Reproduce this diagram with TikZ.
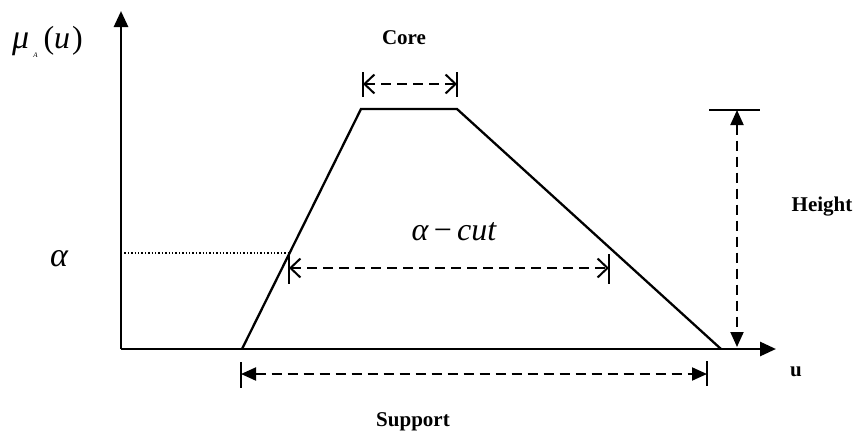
\documentclass[tikz,border=0pt]{standalone}
\usepackage{fontspec}
\setmainfont{Liberation Serif}
\usetikzlibrary{arrows.meta}
\tikzset{
  axisline/.style={line width=2.8pt,-{Triangle[length=16pt,width=14pt]}},
  shape line/.style={line width=2.3pt},
  dimline/.style={line width=2pt,dash pattern=on 10pt off 6pt},
  openarrows/.style={dimline,{Straight Barb[length=10pt,width=19pt,line width=2pt]}-{Straight Barb[length=10pt,width=19pt,line width=2pt]}},
  fillarrows/.style={dimline,{Triangle[length=15pt,width=13pt]}-{Triangle[length=15pt,width=13pt]}},
  barline/.style={line width=2pt},
  boldlabel/.style={font=\fontsize{21}{24}\selectfont\bfseries,inner sep=0pt},
  mathlabel/.style={font=\fontsize{32}{34}\selectfont,inner sep=0pt}
}
\begin{document}
\begin{tikzpicture}[x=1pt,y=-1pt]
\useasboundingbox (0,0) rectangle (854,434);
% key points
\coordinate (O) at (121,349);
\coordinate (Ytip) at (121,11);
\coordinate (Xtip) at (776,349);
\coordinate (A) at (242,349);
\coordinate (B) at (361,109);
\coordinate (C) at (457,109);
\coordinate (D) at (721,349);
% axes
\draw[axisline] (O) -- (Ytip);
\draw[axisline] (O) -- (Xtip);
% trapezoid
\draw[shape line,line join=miter] (A) -- (B) -- (C) -- (D);
% core
\coordinate (cL) at (363,84);
\coordinate (cR) at (457,84);
\draw[barline] (363,72) -- (363,97);
\draw[barline] (457,72) -- (457,97);
\draw[openarrows] (cL) -- (cR);
\node[boldlabel] (core) at (404,38) {Core};
% alpha cut
\coordinate (aD) at (121,253);
\coordinate (aE) at (289,253);
\draw[line width=1.4pt,dotted] (aD) -- (aE);
\coordinate (acL) at (289,268);
\coordinate (acR) at (609,268);
\draw[barline] (289,254) -- (289,284);
\draw[barline] (609,254) -- (609,284);
\draw[openarrows] (acL) -- (acR);
\node[mathlabel] (acut) at (454,232) {\itshape α\,\upshape−\,\itshape cut};
\node[mathlabel] (alpha) at (59,259) {\fontsize{34}{36}\selectfont\itshape α};
% height
\coordinate (hT) at (737,110);
\coordinate (hB) at (737,347);
\draw[barline] (709,110) -- (760,110);
\draw[fillarrows] (hT) -- (hB);
\node[boldlabel] (height) at (822,207) {Height};
% support
\coordinate (sL) at (241,374);
\coordinate (sR) at (707,374);
\draw[barline] (241,362) -- (241,388);
\draw[barline] (707,361) -- (707,386);
\draw[fillarrows] (sL) -- (sR);
\node[boldlabel] (support) at (413,422) {Support};
\node[boldlabel] (u) at (796,372) {u};
% membership label
\node[mathlabel,anchor=west] (mu) at (12,42) {\fontsize{34}{36}\selectfont\itshape μ\hspace{4pt}\raisebox{-9pt}{\fontsize{7}{8}\selectfont A}\hspace{6pt}\fontsize{32}{34}\selectfont\upshape(\itshape u\hspace{2pt}\upshape)};
\end{tikzpicture}
\end{document}
